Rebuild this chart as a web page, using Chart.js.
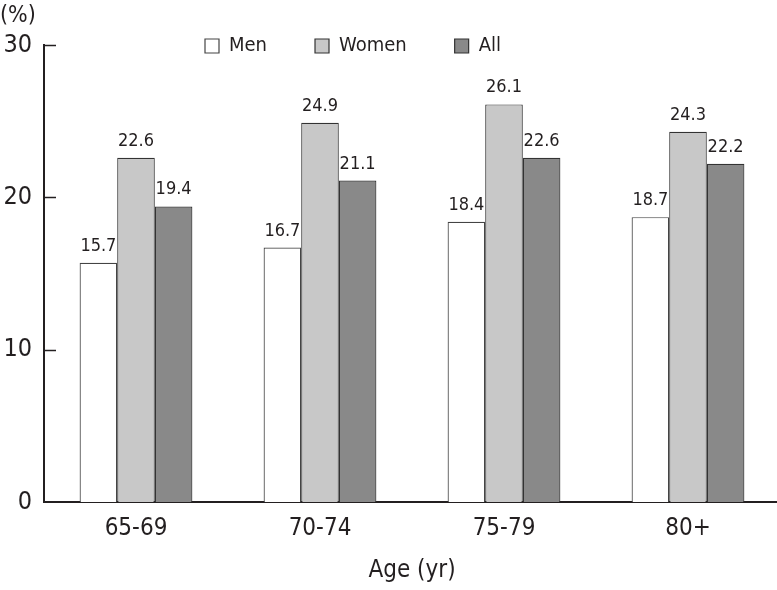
<!DOCTYPE html>
<html>
<head>
<meta charset="utf-8">
<script src="https://cdn.jsdelivr.net/npm/chart.js@4.4.1/dist/chart.umd.min.js"></script>
<style>
html,body{margin:0;padding:0;background:#fff;overflow:hidden;}
#wrap{width:780px;height:590px;}
</style>
</head>
<body>
<div id="wrap"><canvas id="c" width="780" height="590"></canvas></div>
<script>
const categories = ['65-69', '70-74', '75-79', '80+'];
const menValues = [15.7, 16.7, 18.4, 18.7];
const womenValues = [22.6, 24.9, 26.1, 24.3];
const allValues = [19.4, 21.1, 22.6, 22.2];
const seriesNames = ['Men', 'Women', 'All'];
const yTicks = [0, 10, 20, 30];

const FONT = "'DejaVu Sans Condensed', Roboto, sans-serif";
const INK = '#231f20';

const helperPlugin = {
  id: 'helper',
  beforeDraw(chart) {
    const lg = chart.legend;
    if (lg) {
      lg.left = 157;
      lg.right = 1200;
      lg.top = -12;
      lg.bottom = 90;
      lg.width = lg.right - lg.left;
      lg.height = lg.bottom - lg.top;
    }
  },
  afterDatasetsDraw(chart) {
    const ctx = chart.ctx;
    ctx.save();
    ctx.fillStyle = INK;
    ctx.font = '18px ' + FONT;
    ctx.textAlign = 'center';
    ctx.textBaseline = 'alphabetic';
    chart.data.datasets.forEach((ds, i) => {
      const meta = chart.getDatasetMeta(i);
      meta.data.forEach((bar, j) => {
        ctx.fillText(ds.data[j].toFixed(1), bar.x, bar.y - 12);
      });
    });
    const y = chart.scales.y;
    const left = chart.chartArea.left;
    ctx.strokeStyle = INK;
    ctx.lineWidth = 1.5;
    yTicks.forEach(v => {
      if (v === 0) return;
      const py = Math.round(y.getPixelForValue(v)) + 0.5;
      ctx.beginPath();
      ctx.moveTo(left, py);
      ctx.lineTo(left + 12, py);
      ctx.stroke();
    });
    ctx.restore();
  }
};

new Chart(document.getElementById('c'), {
  type: 'bar',
  data: {
    labels: categories,
    datasets: [
      { label: seriesNames[0], data: menValues, backgroundColor: '#ffffff', borderColor: '#444444', borderWidth: 1.2 },
      { label: seriesNames[1], data: womenValues, backgroundColor: '#c8c8c8', borderColor: '#333333', borderWidth: 1.2 },
      { label: seriesNames[2], data: allValues, backgroundColor: '#898989', borderColor: '#333333', borderWidth: 1.2 }
    ]
  },
  options: {
    responsive: false,
    animation: false,
    layout: { padding: 0 },
    datasets: { bar: { barPercentage: 1, categoryPercentage: 0.613 } },
    plugins: {
      title: {
        display: true,
        text: '(%)',
        align: 'start',
        color: INK,
        font: { family: FONT, size: 23, weight: 'normal', lineHeight: 1.2 },
        padding: { top: 2, bottom: 14.4 }
      },
      legend: {
        position: 'top',
        align: 'start',
        maxHeight: 1,
        labels: {
          boxWidth: 14,
          boxHeight: 14,
          padding: 48,
          color: INK,
          font: { family: FONT, size: 20 }
        }
      },
      tooltip: { enabled: false }
    },
    scales: {
      x: {
        grid: { display: false, drawTicks: false },
        border: { display: true, color: INK, width: 2 },
        ticks: { color: INK, padding: 12, font: { family: FONT, size: 24 } },
        title: {
          display: true,
          text: 'Age (yr)',
          color: INK,
          font: { family: FONT, size: 24 },
          padding: { top: 0, bottom: 5 }
        },
        afterFit(s) { s.height = 88; }
      },
      y: {
        min: 0,
        max: 30,
        grid: { display: false, drawTicks: false },
        border: { display: true, color: INK, width: 2 },
        ticks: {
          stepSize: 10,
          padding: 12,
          color: INK,
          font: { family: FONT, size: 25 }
        },
        afterFit(s) { s.width = 44; }
      }
    }
  },
  plugins: [helperPlugin]
});
</script>
</body>
</html>
